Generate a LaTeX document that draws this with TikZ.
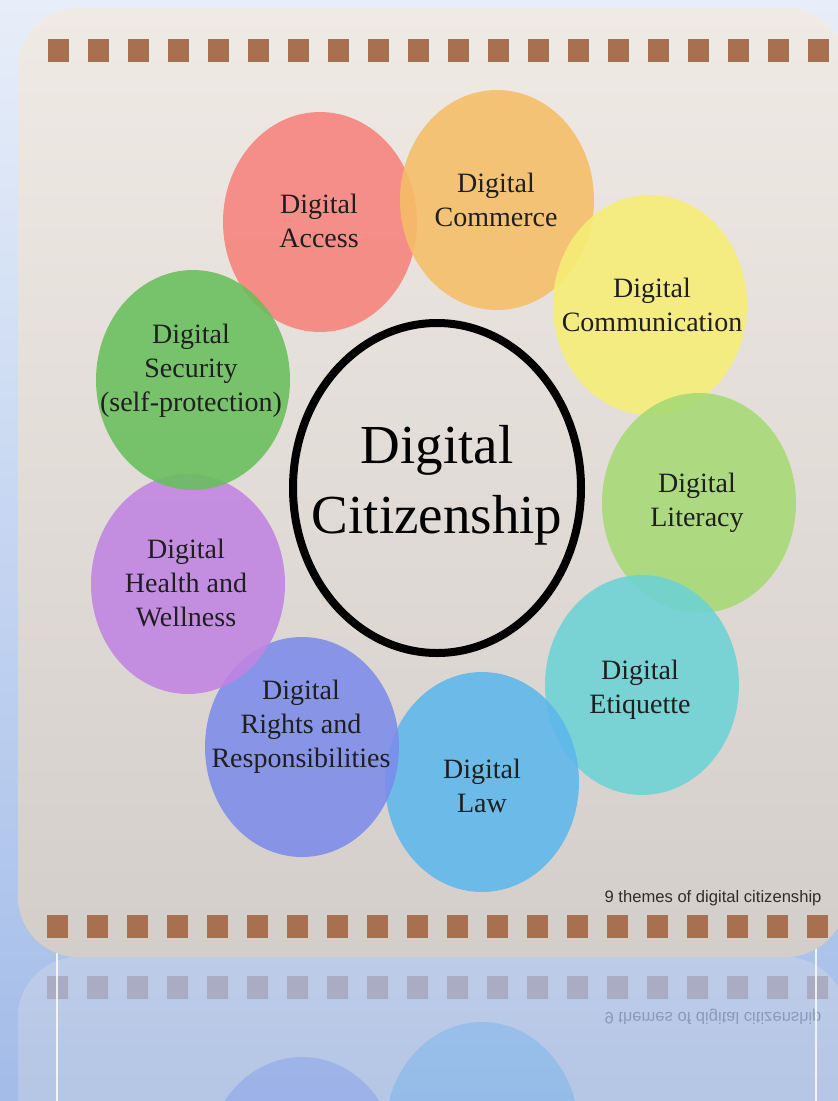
\documentclass[tikz,border=0pt]{standalone}
\usepackage{fontspec}
\setmainfont{Liberation Serif}
\newfontfamily\capfont{Liberation Sans}
\usetikzlibrary{shapes.geometric}
\definecolor{bgtop}{HTML}{E7EEF9}
\definecolor{bgbot}{HTML}{A3BCE8}
\definecolor{cardtop}{HTML}{F0EAE5}
\definecolor{cardbot}{HTML}{D4CECA}
\definecolor{sqcol}{HTML}{A8704F}
\definecolor{cAccess}{HTML}{F7827C}
\definecolor{cCommerce}{HTML}{F6BE66}
\definecolor{cComm}{HTML}{F6EE74}
\definecolor{cLit}{HTML}{A6D975}
\definecolor{cEtiq}{HTML}{6CD3D6}
\definecolor{cLaw}{HTML}{5DB7EC}
\definecolor{cRights}{HTML}{7D8CEA}
\definecolor{cHealth}{HTML}{C184E2}
\definecolor{cSec}{HTML}{68BF5C}
\tikzset{
  theme/.style={ellipse, draw=none, inner sep=0pt, minimum width=194pt, minimum height=220pt, fill opacity=0.88},
  lbl/.style={align=center, text=black!88, font=\fontsize{28}{34}\selectfont},
  sq/.style={fill=sqcol},
  captxt/.style={anchor=base east, text=black!82, font=\capfont\fontsize{16.6}{19}\selectfont},
}
\newcommand\mycardbase{%
  \shade[rounded corners=60pt, top color=cardtop, bottom color=cardbot] (18,8) rectangle (846,957);
  \foreach \i in {0,...,19} {
    \fill[sq] (48+40*\i,39) rectangle ++(21,23);
    \fill[sq] (47+40*\i,915) rectangle ++(21,23);
  }
}
\begin{document}
\begin{tikzpicture}[x=1pt, y=-1pt]
  \useasboundingbox (0,0) rectangle (838,1101);
  \shade[top color=bgtop, bottom color=bgbot] (0,0) rectangle (838,1101);
  % reflection of the card's lower edge
  \begin{scope}
    \clip (0,957) rectangle (838,1101);
    \begin{scope}[transparency group, opacity=0.25]
      \begin{scope}[shift={(0,1914)}, yscale=-1, transform shape]
        \mycardbase
        \node[theme, fill=cLaw] (rLaw) at (482,782) {};
        \node[theme, fill=cRights] (rRights) at (302,747) {};
        \node[captxt] (rcaption) at (825,902) {9 themes of digital citizenship};
      \end{scope}
    \end{scope}
  \end{scope}
  \coordinate (l1) at (57,950);  \coordinate (l2) at (57,1101);
  \coordinate (r1) at (816,948); \coordinate (r2) at (816,1101);
  \draw[white, opacity=0.8, line width=1.2pt] (l1) -- (l2);
  \draw[white, opacity=0.8, line width=1.2pt] (r1) -- (r2);
  % card
  \mycardbase
  \node[theme, fill=cAccess] (eAccess) at (320,222) {};
  \node[theme, fill=cCommerce] (eCommerce) at (497,200) {};
  \node[theme, fill=cComm] (eComm) at (650,305) {};
  \node[theme, fill=cLit] (eLit) at (699,503) {};
  \node[theme, fill=cEtiq] (eEtiq) at (642,685) {};
  \node[theme, fill=cLaw] (eLaw) at (482,782) {};
  \node[theme, fill=cRights] (eRights) at (302,747) {};
  \node[theme, fill=cHealth] (eHealth) at (188,584) {};
  \node[theme, fill=cSec] (eSec) at (193,380) {};
  \node[ellipse, draw=black, line width=8pt, inner sep=0pt, minimum width=288pt, minimum height=330pt] (center) at (437,488) {};
  \node[lbl] (tAccess) at (319,221) {Digital\\Access};
  \node[lbl] (tCommerce) at (496,200) {Digital\\Commerce};
  \node[lbl] (tComm) at (652,305) {Digital\\Communication};
  \node[lbl] (tLit) at (697,503) {Digital\\Literacy};
  \node[lbl] (tEtiq) at (640,690) {Digital\\Etiquette};
  \node[lbl] (tLaw) at (482,786) {Digital\\Law};
  \node[lbl] (tRights) at (301,727) {Digital\\Rights and\\Responsibilities};
  \node[lbl] (tHealth) at (186,583) {Digital\\Health and\\Wellness};
  \node[lbl] (tSec) at (191,371) {Digital\\Security\\(self-protection)};
  \node[align=center, text=black, font=\fontsize{55}{70}\selectfont] (tCenter) at (437,485) {Digital\\Citizenship};
  \node[captxt] (caption) at (825,902) {9 themes of digital citizenship};
\end{tikzpicture}
\end{document}
